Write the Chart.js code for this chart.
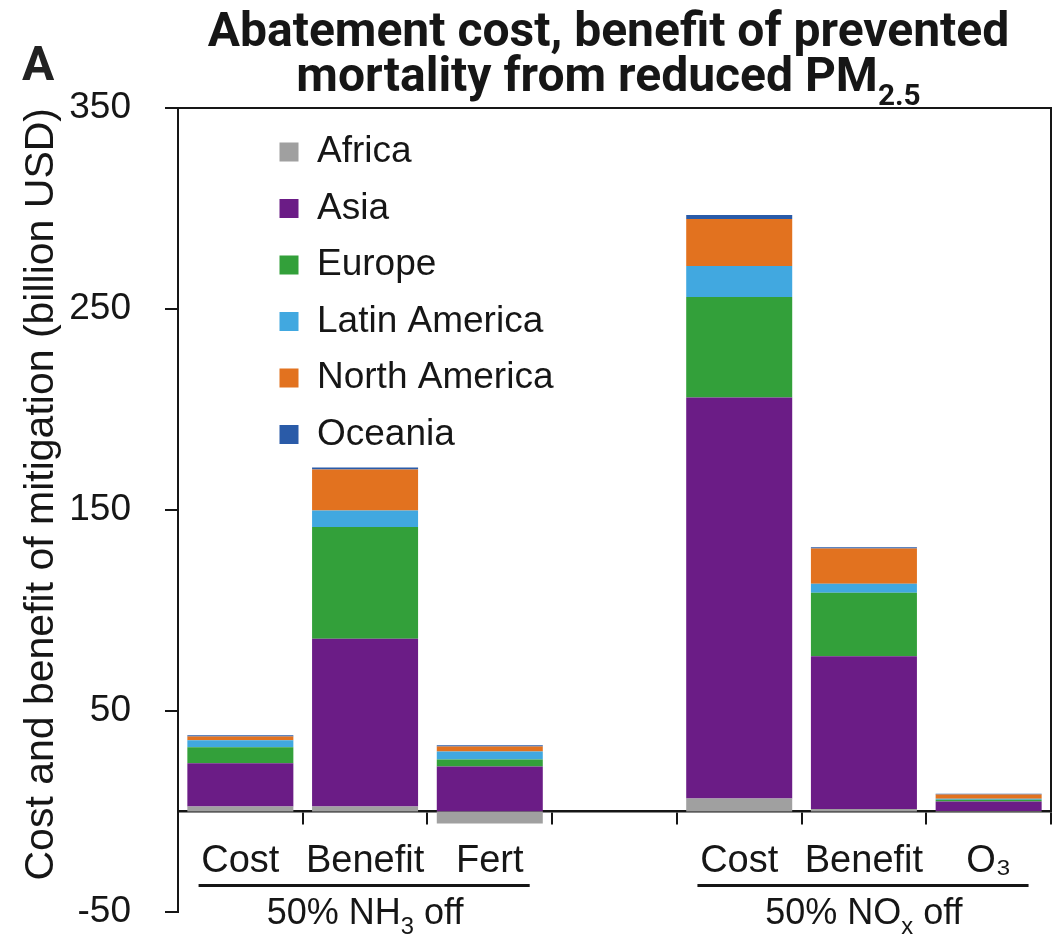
<!DOCTYPE html>
<html>
<head>
<meta charset="utf-8">
<script src="https://cdn.jsdelivr.net/npm/chart.js@4.4.1/dist/chart.umd.min.js"></script>
<style>
  html, body { margin: 0; padding: 0; background: #fff; }
  #wrap { width: 1056px; height: 935px; }
</style>
</head>
<body>
<div id="wrap"><canvas id="chart" width="1056" height="935"></canvas></div>
<script>
// Category slots (the empty slot separates the two emission scenarios)
const categories = ['Cost', 'Benefit', 'Fert', '', 'Cost', 'Benefit', 'O₃'];
const regions = ['Africa', 'Asia', 'Europe', 'Latin America', 'North America', 'Oceania'];
const regionColors = ['#a0a0a0', '#6b1c86', '#33a03a', '#41a8e0', '#e2721f', '#2a5ba8'];

// Billion USD per region, one entry per category slot
const africa       = [2.5,  2.5,  -6.0, null, 6.5,   1.3,  0.2];
const asia         = [21.5, 83.5, 22.4, null, 199.5, 76.0, 4.8];
const europe       = [8.0,  55.5, 3.5,  null, 50.0,  31.5, 0.8];
const latinAmerica = [3.5,  8.3,  4.0,  null, 15.4,  4.5,  0.6];
const northAmerica = [1.8,  20.4, 2.5,  null, 23.4,  17.6, 2.0];
const oceania      = [0.6,  1.0,  0.5,  null, 2.0,   0.6,  0.4];

const yTicks = [-50, 50, 150, 250, 350];

// Scenario groups under the category labels (index range of slots)
const groupLabels = ['50% NH_{3} off', '50% NO_{x} off'];
const groupFrom = [0, 4];
const groupTo = [2, 6];

const titleLines = ['Abatement cost, benefit of prevented', 'mortality from reduced PM_{2.5}'];
const panelLetter = 'A';
const yTitle = 'Cost and benefit of mitigation (billion USD)';

const seriesValues = [africa, asia, europe, latinAmerica, northAmerica, oceania];

const SANS = "'Liberation Sans', Arial, sans-serif";
const INK = '#161616';

// Draws text containing _{...} subscript runs, centred on cx
function drawRich(ctx, str, cx, y, size, weight, family, subScale, subDrop) {
  const parts = [];
  const re = /_\{([^}]*)\}/g;
  let last = 0, m;
  while ((m = re.exec(str)) !== null) {
    if (m.index > last) parts.push({ t: str.slice(last, m.index), sub: false });
    parts.push({ t: m[1], sub: true });
    last = re.lastIndex;
  }
  if (last < str.length) parts.push({ t: str.slice(last), sub: false });
  const subSize = size * subScale;
  let total = 0;
  parts.forEach(p => {
    ctx.font = `${weight} ${p.sub ? subSize : size}px ${family}`;
    p.w = ctx.measureText(p.t).width;
    total += p.w;
  });
  let x = cx - total / 2;
  ctx.textAlign = 'left';
  ctx.textBaseline = 'alphabetic';
  parts.forEach(p => {
    ctx.font = `${weight} ${p.sub ? subSize : size}px ${family}`;
    ctx.fillText(p.t, x, p.sub ? y + size * subDrop : y);
    x += p.w;
  });
}

const decorations = {
  id: 'decorations',
  afterLayout(chart) {
    // legend sits inside the plot, offset from the top-left corner
    const lg = chart.legend;
    const a = chart.chartArea;
    if (lg) {
      const w = lg.width, h = lg.height;
      lg.left = a.left + 82; lg.right = lg.left + w;
      lg.top = a.top + 6; lg.bottom = lg.top + h;
    }
  },
  beforeDatasetsDraw(chart) {
    const { ctx, chartArea: a, scales: { y } } = chart;
    const y0 = y.getPixelForValue(0);
    ctx.save();
    ctx.strokeStyle = INK;
    ctx.lineWidth = 2;
    ctx.beginPath();
    ctx.moveTo(a.right, a.top - 1);
    ctx.lineTo(a.right, y0);
    ctx.stroke();
    ctx.restore();
  },
  afterDraw(chart) {
    const { ctx, chartArea: a, scales: { x, y } } = chart;
    const y0 = y.getPixelForValue(0);
    const slot = (a.right - a.left) / categories.length;
    ctx.save();
    ctx.fillStyle = INK;
    ctx.strokeStyle = INK;

    // title
    const tcx = (a.left + a.right) / 2 - 6;
    drawRich(ctx, titleLines[0], tcx, 46, 48, 'bold', 'Roboto, sans-serif', 0.62, 0.3);
    drawRich(ctx, titleLines[1], tcx, 91, 48, 'bold', 'Roboto, sans-serif', 0.62, 0.3);

    // panel letter
    ctx.fillStyle = '#222';
    ctx.font = "bold 48px 'Liberation Sans Narrow', Roboto, sans-serif";
    ctx.textAlign = 'left';
    ctx.textBaseline = 'alphabetic';
    ctx.fillText(panelLetter, 22, 80);
    ctx.fillStyle = INK;

    // scenario groups: rule + label
    groupLabels.forEach((label, i) => {
      const xa = x.getPixelForValue(groupFrom[i]) - slot * 0.335;
      const xb = x.getPixelForValue(groupTo[i]) + slot * 0.32;
      ctx.lineWidth = 3;
      ctx.beginPath();
      ctx.moveTo(xa, y0 + 74);
      ctx.lineTo(xb, y0 + 74);
      ctx.stroke();
      const cx = (x.getPixelForValue(groupFrom[i]) + x.getPixelForValue(groupTo[i])) / 2;
      drawRich(ctx, label, cx, y0 + 112, 36, 'normal', SANS, 0.66, 0.28);
    });
    ctx.restore();
  }
};

const datasets = regions.map((name, i) => ({
  label: name,
  data: seriesValues[i],
  backgroundColor: regionColors[i],
  borderWidth: 0,
  barPercentage: 0.85,
  categoryPercentage: 1.0,
  stack: 'all'
}));

new Chart(document.getElementById('chart'), {
  type: 'bar',
  data: { labels: categories, datasets },
  plugins: [decorations],
  options: {
    responsive: false,
    animation: false,
    devicePixelRatio: 1,
    layout: { padding: { top: 108, bottom: 23, left: 0, right: 5 } },
    plugins: {
      title: { display: false },
      tooltip: { enabled: false },
      legend: {
        display: true,
        position: 'chartArea',
        align: 'start',
        labels: {
          font: { family: SANS, size: 37 },
          color: INK,
          boxWidth: 19,
          boxHeight: 19,
          padding: 19.5
        }
      }
    },
    scales: {
      x: {
        type: 'category',
        position: { y: 0 },
        offset: true,
        stacked: true,
        grid: {
          offset: true,
          drawOnChartArea: false,
          drawTicks: true,
          tickLength: 12,
          tickColor: INK,
          lineWidth: 2
        },
        border: { display: true, color: INK, width: 2.5 },
        ticks: {
          font: { family: SANS, size: 38 },
          color: INK,
          padding: 15,
          maxRotation: 0,
          autoSkip: false
        }
      },
      y: {
        type: 'linear',
        stacked: true,
        min: -50,
        max: 350,
        afterBuildTicks(scale) {
          scale.ticks = yTicks.map(v => ({ value: v }));
        },
        afterFit(scale) {
          scale.width = 178;
          scale.paddingTop = 0;
          scale.paddingBottom = 0;
        },
        grid: {
          drawOnChartArea: true,
          drawTicks: true,
          tickLength: 13,
          lineWidth: 2,
          color: ctx => (ctx.tick && ctx.tick.value === yTicks[yTicks.length - 1]) ? INK : 'rgba(0,0,0,0)',
          tickColor: INK
        },
        border: { display: true, color: INK, width: 2 },
        ticks: {
          font: { family: SANS, size: 37 },
          color: INK,
          padding: 34
        },
        title: {
          display: true,
          text: yTitle,
          align: 'end',
          color: INK,
          font: { family: SANS, size: 41, lineHeight: 1 },
          padding: { top: 21.5, bottom: 0 }
        }
      }
    }
  }
});
</script>
</body>
</html>
